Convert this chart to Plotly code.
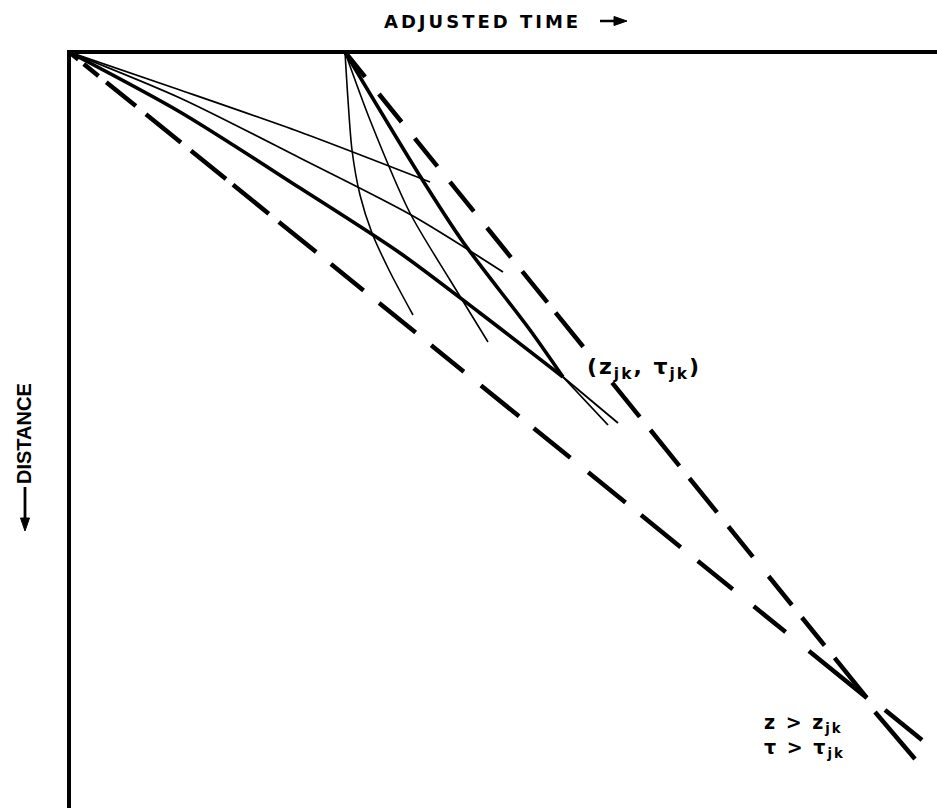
import plotly.graph_objects as go

# Schematic trajectories: adjusted time (x) vs distance (y, increasing downward)
# Units are arbitrary diagram units.

# Fan from the origin
upper_thin_t = [0, 111, 231, 361]
upper_thin_d = [0, 38, 80, 130]

mid_thin_t = [0, 111, 231, 344, 434]
mid_thin_d = [0, 46, 106, 164, 220]

thick_a_t = [0, 111, 231, 331, 411, 494]
thick_a_d = [0, 60, 136, 201, 261, 325]
thick_a_tail_t = [494, 549]
thick_a_tail_d = [325, 371]

# Fan from the later start point
thick_b_t = [276, 351, 394, 461, 494]
thick_b_d = [0, 124, 190, 278, 325]
thick_b_tail_t = [494, 539]
thick_b_tail_d = [325, 373]

curve_a_t = [276, 279, 283, 291, 303, 321, 344]
curve_a_d = [0, 48, 98, 143, 181, 220, 263]

curve_b_t = [276, 301, 341, 381, 419]
curve_b_d = [0, 68, 161, 228, 290]

# Bounding (dashed) trajectories and their continuation beyond the crossing
bound_low_t = [0, 798]
bound_low_d = [0, 646]
bound_up_t = [276, 798]
bound_up_d = [0, 646]
low_tail_t = [816, 853]
low_tail_d = [658, 688]
up_tail_t = [806, 846]
up_tail_d = [660, 707]

# hand-drawn dash patterns (dash, gap, dash, gap, ...) along each bound
low_dash = [12, 7, 19, 10, 38, 13, 45, 13, 45, 9, 46, 13, 48, 19, 42, 20, 47, 20, 42, 22,
            49, 19, 47, 23, 48, 20, 51, 22, 45, 27, 41, 30, 75, 300]
up_dash = [32, 22, 36, 21, 36, 20, 38, 21, 38, 18, 40, 13, 44, 46, 44, 17, 46, 16, 44, 18,
           39, 25, 37, 16, 36, 16, 51, 300]

W, H = 937, 808
L, T = 71, 54

def px(x):
    return (x - L) / (W - L)

def py(y):
    return (H - y) / (H - T)

X0, Y0 = 69, 52  # pixel position of the data origin (axes corner)

def dash_str(seq):
    return ",".join(f"{v}px" for v in seq)

fig = go.Figure()

def add(t, d, width, dash="solid", shape="spline"):
    fig.add_trace(go.Scatter(x=t, y=d, mode="lines",
                             line=dict(color="black", width=width, dash=dash,
                                       shape=shape, smoothing=0.8),
                             hoverinfo="skip", showlegend=False, cliponaxis=False))

add(upper_thin_t, upper_thin_d, 1.8)
add(mid_thin_t, mid_thin_d, 1.8)
add(thick_a_t, thick_a_d, 3.6)
add(thick_a_tail_t, thick_a_tail_d, 1.8, shape="linear")
add(thick_b_t, thick_b_d, 3.6)
add(thick_b_tail_t, thick_b_tail_d, 1.8, shape="linear")
add(curve_a_t, curve_a_d, 1.6)
add(curve_b_t, curve_b_d, 1.6)
add(bound_low_t, bound_low_d, 4.5, dash_str(low_dash), "linear")
add(bound_up_t, bound_up_d, 4.5, dash_str(up_dash), "linear")
add(low_tail_t, low_tail_d, 4.5, shape="linear")
add(up_tail_t, up_tail_d, 4.5, shape="linear")

xr = [L - X0, W - X0]
yr = [H - Y0, T - Y0]

# arrow decorations next to axis titles (paper coordinates)
shapes = [
    dict(type="line", xref="paper", yref="paper", x0=px(600), x1=px(616), y0=py(21), y1=py(21),
         line=dict(color="black", width=2.5)),
    dict(type="path", xref="paper", yref="paper",
         path=f"M {px(614)},{py(16.5)} L {px(627)},{py(21)} L {px(614)},{py(25.5)} Z",
         fillcolor="black", line=dict(color="black", width=1)),
    dict(type="line", xref="paper", yref="paper", x0=px(25), x1=px(25), y0=py(487), y1=py(520),
         line=dict(color="black", width=2.8)),
    dict(type="path", xref="paper", yref="paper",
         path=f"M {px(20.5)},{py(518)} L {px(25)},{py(531)} L {px(29.5)},{py(518)} Z",
         fillcolor="black", line=dict(color="black", width=1)),
]

fig.update_layout(
    width=W, height=H,
    margin=dict(l=L, r=0, t=T, b=0, pad=0),
    paper_bgcolor="white", plot_bgcolor="white",
    xaxis=dict(range=xr, side="top", showline=True, linewidth=4, linecolor="black",
               showgrid=False, zeroline=False, showticklabels=False, ticks=""),
    yaxis=dict(range=yr, showline=True, linewidth=4, linecolor="black",
               showgrid=False, zeroline=False, showticklabels=False, ticks=""),
    font=dict(family="DejaVu Sans", color="black"),
    shapes=shapes,
)

P = dict(xref="paper", yref="paper", showarrow=False, xanchor="center", yanchor="middle")
ann = []
ann.append(dict(P, x=px((383 + 581) / 2), y=py(21.5),
                text='<span style="letter-spacing:3px">ADJUSTED TIME</span>',
                font=dict(size=18, family="DejaVu Sans", weight="bold")))
ann.append(dict(P, x=px(24), y=py(434), text="DISTANCE", textangle=-90,
                font=dict(size=20, family="Liberation Sans", weight="bold")))
ann.append(dict(P, x=px(585), y=py(369), xanchor="left",
                text='<span style="letter-spacing:2px">(z<sub>jk</sub>, τ<sub>jk</sub>)</span>',
                font=dict(size=22, weight="bold")))
ann.append(dict(P, x=px(762), y=py(723), xanchor="left",
                text='<span style="letter-spacing:2px">z &gt; z<sub>jk</sub></span>',
                font=dict(size=19, weight="bold")))
ann.append(dict(P, x=px(762), y=py(748), xanchor="left",
                text='<span style="letter-spacing:2px">τ &gt; τ<sub>jk</sub></span>',
                font=dict(size=19, weight="bold")))
fig.update_layout(annotations=ann)

fig.write_html("out.html", config={"displayModeBar": False},
               post_script="document.body.style.margin='0';document.body.style.overflow='hidden';")
